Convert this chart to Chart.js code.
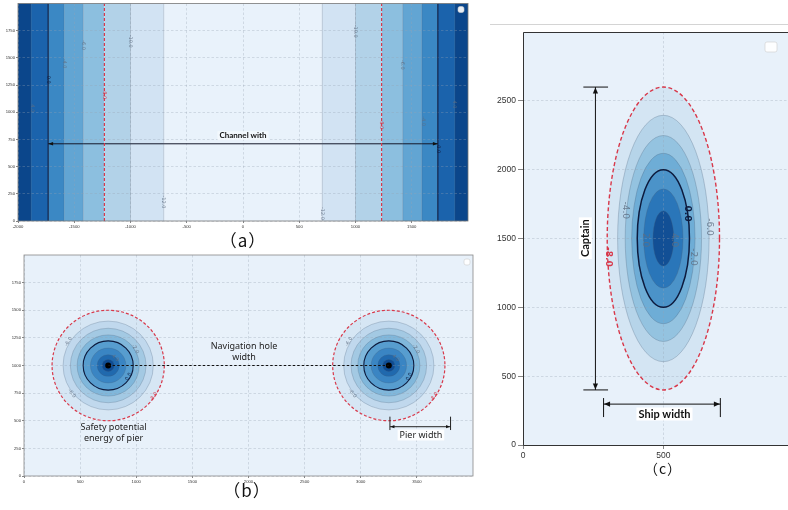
<!DOCTYPE html>
<html>
<head>
<meta charset="utf-8">
<script src="https://cdn.jsdelivr.net/npm/chart.js@4.4.1/dist/chart.umd.min.js"></script>
<style>
  body { margin: 0; background: #fff; width: 788px; height: 510px; position: relative; overflow: hidden; }
  canvas { position: absolute; }
  .cap { position: absolute; font-family: "Noto Sans CJK SC", "Noto Sans CJK JP"; color: #111; transform: translate(-50%, -50%); white-space: nowrap; letter-spacing: 1px; }
  .rule { position: absolute; height: 1px; }
</style>
</head>
<body>
<canvas id="chartA" width="480" height="240" style="left:0;top:0"></canvas>
<canvas id="chartB" width="480" height="250" style="left:0;top:250px"></canvas>
<canvas id="chartC" width="308" height="480" style="left:480px;top:0"></canvas>
<div class="rule" style="left:490px;top:24px;width:298px;background:#d4d4d4"></div>
<div class="cap" style="left:243px;top:239px;font-size:17px">（a）</div>
<div class="cap" style="left:247px;top:489px;font-size:17px">（b）</div>
<div class="cap" style="left:663px;top:468px;font-size:14px">（c）</div>
<script>
// (a) channel: band edges along x, contour lines and their values
const channelEdges = [-2000, -1884, -1732, -1590, -1420, -1232, -1000, -705, 705, 1000, 1232, 1420, 1590, 1732, 1884, 2000];
const channelLines = [705, 1000, 1232, 1420, 1590, 1732, 1884];
const channelLevels = [-12, -10, -8, -6, -4, 0, 4];
const channelSpan = [-1732, 1732];
const channelArrowY = 710;
const ticksAx = [-2000, -1500, -1000, -500, 0, 500, 1000, 1500];
const ticksAy = [0, 250, 500, 750, 1000, 1250, 1500, 1750];

// (b) piers: centres, contour radii and values
const pierCenters = [[750, 1000], [3250, 1000]];
const pierRadii = [500, 402, 337, 277, 223, 158, 98, 54];
const pierLevels = [-8, -6, -4, -2, 0, 2, 4, 6];
const pierWidthSpan = [3260, 3800];
const pierWidthY = 446;
const pierWidthBar = [416, 537];
const ticksBx = [0, 500, 1000, 1500, 2000, 2500, 3000, 3500];
const ticksBy = [0, 250, 500, 750, 1000, 1250, 1500, 1750];

// (c) ship: centre, ellipse half axes and values
const shipCenter = [500, 1500];
const shipRx = [200, 163, 136, 113, 93, 70, 37];
const shipRy = [1100, 895, 748, 619, 500, 360, 200];
const shipLevels = [-8, -6, -4, -2, 0, 2, 4];
const captainX = 258;
const captainSpan = [400, 2600];
const captainBar = [215, 303];
const shipWidthSpan = [287, 703];
const shipWidthY = 297;
const shipWidthBar = [203, 341];
const ticksCx = [0, 500];
const ticksCy = [0, 500, 1000, 1500, 2000, 2500];

// colours
const bandColorsA = ['#0b468b', '#1b63ac', '#3b88c4', '#62a5d3', '#8cbfdf', '#b2d2e8', '#d2e3f3', '#e9f2fb',
                     '#d2e3f3', '#b2d2e8', '#8cbfdf', '#62a5d3', '#3b88c4', '#1b63ac', '#0b468b'];
const ringColorsB = ['#d6e6f4', '#c0d8ed', '#a3c9e3', '#80b7db', '#579dcf', '#3a85c3', '#2069ae', '#0e4c93'];
const ringColorsC = ['#d4e5f3', '#b6d4e9', '#94c3e0', '#6eadd6', '#4b93c9', '#2a76b9', '#124f95'];
const paleBg = '#e8f1fa';
const redLine = '#d8384a';

function lineStyle(lvl) {
  if (lvl === -8) return { borderColor: redLine, borderWidth: 1.2, borderDash: [3, 2] };
  if (lvl === 0) return { borderColor: '#0d1b3e', borderWidth: 1.1, borderDash: [] };
  return { borderColor: 'rgba(70,90,115,0.35)', borderWidth: 0.7, borderDash: [] };
}

function scaleOpts(min, max, ticks, pos, size, font, tickLen, pad) {
  return {
    type: 'linear', position: pos, min: min, max: max,
    afterBuildTicks: s => { s.ticks = ticks.map(v => ({ value: v })); },
    afterFit: s => { if (pos === 'left') s.width = size; else s.height = size; },
    grid: { color: 'rgba(150,162,178,0.55)', lineWidth: 0.6, drawTicks: true, tickLength: tickLen, tickColor: '#666', tickWidth: 0.8 },
    border: { display: false, dash: [2.5, 2] },
    ticks: { color: '#333', font: { family: 'Liberation Sans', size: font }, padding: pad,
             maxRotation: 0, minRotation: 0, autoSkip: false, callback: v => String(v) }
  };
}

function baseOptions(pad, scales) {
  return {
    responsive: false, animation: false, devicePixelRatio: 1, events: [],
    layout: { padding: pad },
    plugins: { legend: { display: false }, tooltip: { enabled: false } },
    scales: scales
  };
}

function px(chart, x, y) {
  return [chart.scales.x.getPixelForValue(x), chart.scales.y.getPixelForValue(y)];
}

function ellipsePath(ctx, chart, cx, cy, rx, ry) {
  const [x0, y0] = px(chart, cx, cy);
  const w = Math.abs(chart.scales.x.getPixelForValue(cx + rx) - x0);
  const h = Math.abs(chart.scales.y.getPixelForValue(cy + ry) - y0);
  ctx.beginPath();
  ctx.ellipse(x0, y0, w, h, 0, 0, Math.PI * 2);
}

function drawText(ctx, txt, x, y, o) {
  ctx.save();
  ctx.translate(x, y);
  if (o.rot) ctx.rotate(o.rot);
  ctx.font = o.font;
  ctx.textAlign = 'center';
  ctx.textBaseline = 'middle';
  if (o.bg) {
    const w = ctx.measureText(txt).width + 4;
    ctx.fillStyle = o.bg;
    ctx.fillRect(-w / 2, -o.h / 2, w, o.h);
  }
  ctx.fillStyle = o.color;
  ctx.fillText(txt, 0, 0);
  ctx.restore();
}

function arrowHead(ctx, x, y, ang, len, half) {
  ctx.save();
  ctx.translate(x, y);
  ctx.rotate(ang);
  ctx.beginPath();
  ctx.moveTo(0, 0); ctx.lineTo(-len, -half); ctx.lineTo(-len, half); ctx.closePath();
  ctx.fillStyle = '#111';
  ctx.fill();
  ctx.restore();
}

function legendBox(ctx, x, y, w, h) {
  ctx.save();
  ctx.beginPath();
  ctx.roundRect(x, y, w, h, 2);
  ctx.fillStyle = 'rgba(255,255,255,0.9)';
  ctx.fill();
  ctx.strokeStyle = '#cfcfcf';
  ctx.lineWidth = 0.6;
  ctx.stroke();
  ctx.restore();
}

function labelColor(lvl) {
  if (lvl === -8) return redLine;
  if (lvl === 0) return '#0d1b3e';
  return 'rgba(95,110,130,0.85)';
}

function seg(x0, y0, x1, y1, style) {
  return Object.assign({ data: [{ x: x0, y: y0 }, { x: x1, y: y1 }], showLine: true, pointRadius: 0, fill: false }, style);
}

// ---------- (a) ----------
const dsA = [];
channelLines.forEach((d, i) => {
  [-d, d].forEach(xv => dsA.push(seg(xv, 0, xv, 2000, lineStyle(channelLevels[i]))));
});
dsA.push(seg(channelSpan[0], channelArrowY, channelSpan[1], channelArrowY, { borderColor: '#15182a', borderWidth: 1 }));

const spotsA = [[-1870, 1036, 6], [-1732, 1300, 5], [-1590, 1448, 4], [-1420, 1618, 3], [-1232, 1164, 2],
                [-1000, 1654, 1], [-705, 175, 0], [705, 70, 0], [1000, 1745, 1], [1232, 890, 2],
                [1420, 1436, 3], [1600, 918, 4], [1740, 660, 5], [1875, 1072, 6]];

const panelA = {
  id: 'panelA',
  beforeDraw(chart) {
    const { ctx, chartArea: a, scales: { x } } = chart;
    ctx.save();
    for (let i = 0; i < channelEdges.length - 1; i++) {
      const x0 = x.getPixelForValue(channelEdges[i]);
      const x1 = x.getPixelForValue(channelEdges[i + 1]);
      ctx.fillStyle = bandColorsA[i];
      ctx.fillRect(x0, a.top, x1 - x0, a.height);
    }
    ctx.restore();
  },
  afterDatasetsDraw(chart) {
    const ctx = chart.ctx;
    spotsA.forEach(([lx, ly, k]) => {
      const [p, q] = px(chart, lx, ly);
      drawText(ctx, channelLevels[k].toFixed(1), p, q, { font: '5px "DejaVu Sans"', color: labelColor(channelLevels[k]), rot: Math.PI / 2 });
    });
  },
  afterDraw(chart) {
    const { ctx, chartArea: a } = chart;
    ctx.save();
    ctx.strokeStyle = '#777'; ctx.lineWidth = 0.8;
    ctx.strokeRect(a.left, a.top, a.width, a.height);
    ctx.restore();
    const [l, y0] = px(chart, channelSpan[0], channelArrowY);
    const [r] = px(chart, channelSpan[1], channelArrowY);
    arrowHead(ctx, l, y0, Math.PI, 5, 1.8);
    arrowHead(ctx, r, y0, 0, 5, 1.8);
    const [tx, ty] = px(chart, 0, 785);
    drawText(ctx, 'Channel with', tx, ty, { font: 'bold 8px Lato', color: '#111', bg: 'rgba(245,249,253,0.85)', h: 9 });
    legendBox(ctx, a.right - 10, a.top + 3, 6, 6);
  }
};

new Chart(document.getElementById('chartA'), {
  type: 'scatter',
  data: { datasets: dsA },
  options: baseOptions({ top: 1, right: 12, left: 0, bottom: 0 }, {
    x: scaleOpts(-2000, 2000, ticksAx, 'bottom', 19, 4.2, 2, 1),
    y: scaleOpts(0, 2000, ticksAy, 'left', 18, 4.2, 2, 1)
  }),
  plugins: [panelA]
});

// ---------- (b) ----------
const dsB = [
  seg(pierCenters[0][0], pierCenters[0][1], pierCenters[1][0], pierCenters[1][1], { borderColor: '#111', borderWidth: 1.2, borderDash: [2.5, 2] }),
  { data: pierCenters.map(([x, y]) => ({ x: x, y: y })), pointRadius: 3, pointBackgroundColor: '#000', pointBorderWidth: 0, showLine: false },
  seg(pierWidthSpan[0], pierWidthY, pierWidthSpan[1], pierWidthY, { borderColor: '#222', borderWidth: 1 }),
  seg(pierWidthSpan[0], pierWidthBar[0], pierWidthSpan[0], pierWidthBar[1], { borderColor: '#222', borderWidth: 1 }),
  seg(pierWidthSpan[1], pierWidthBar[0], pierWidthSpan[1], pierWidthBar[1], { borderColor: '#222', borderWidth: 1 })
];

const spotsB = [[396, 1216, 1], [426, 748, 1], [932, 899, 4], [813, 1068, 6], [991, 1149, 3], [1155, 718, 0]];

const panelB = {
  id: 'panelB',
  beforeDraw(chart) {
    const { ctx, chartArea: a } = chart;
    ctx.save();
    ctx.fillStyle = paleBg;
    ctx.fillRect(a.left, a.top, a.width, a.height);
    pierCenters.forEach(([cx, cy]) => {
      pierRadii.forEach((r, i) => {
        ellipsePath(ctx, chart, cx, cy, r, r);
        ctx.fillStyle = ringColorsB[i];
        ctx.fill();
      });
    });
    ctx.restore();
  },
  beforeDatasetsDraw(chart) {
    const ctx = chart.ctx;
    ctx.save();
    pierCenters.forEach(([cx, cy]) => {
      pierRadii.forEach((r, i) => {
        const st = lineStyle(pierLevels[i]);
        ellipsePath(ctx, chart, cx, cy, r, r);
        ctx.strokeStyle = st.borderColor;
        ctx.lineWidth = st.borderWidth;
        ctx.setLineDash(st.borderDash);
        ctx.stroke();
      });
    });
    ctx.restore();
  },
  afterDatasetsDraw(chart) {
    const ctx = chart.ctx;
    pierCenters.forEach(([cx, cy]) => {
      spotsB.forEach(([lx, ly, k]) => {
        const off = cx - pierCenters[0][0];
        const [pc, qc] = px(chart, cx, cy);
        const [p, q] = px(chart, lx + off, ly);
        let rot = Math.atan2(q - qc, p - pc) + Math.PI / 2;
        while (rot > Math.PI / 2) rot -= Math.PI;
        while (rot < -Math.PI / 2) rot += Math.PI;
        drawText(ctx, pierLevels[k].toFixed(1), p, q, { font: '5px "DejaVu Sans"', color: labelColor(pierLevels[k]), rot: rot });
      });
    });
  },
  afterDraw(chart) {
    const { ctx, chartArea: a } = chart;
    ctx.save();
    ctx.strokeStyle = '#888'; ctx.lineWidth = 0.8;
    ctx.strokeRect(a.left, a.top, a.width, a.height);
    ctx.restore();
    const [l, y0] = px(chart, pierWidthSpan[0], pierWidthY);
    const [r] = px(chart, pierWidthSpan[1], pierWidthY);
    arrowHead(ctx, l + 0.5, y0, Math.PI, 4, 1.6);
    arrowHead(ctx, r - 0.5, y0, 0, 4, 1.6);
    const f = '9px "Noto Sans"';
    let [tx, ty] = px(chart, 1960, 1170);
    drawText(ctx, 'Navigation hole', tx, ty, { font: f, color: '#222' });
    [tx, ty] = px(chart, 1960, 1074);
    drawText(ctx, 'width', tx, ty, { font: f, color: '#222' });
    [tx, ty] = px(chart, 798, 437);
    drawText(ctx, 'Safety potential', tx, ty, { font: f, color: '#222' });
    [tx, ty] = px(chart, 798, 341);
    drawText(ctx, 'energy of pier', tx, ty, { font: f, color: '#222' });
    [tx, ty] = px(chart, 3536, 371);
    drawText(ctx, 'Pier width', tx, ty, { font: f, color: '#222', bg: 'rgba(255,255,255,0.9)', h: 11 });
    legendBox(ctx, a.right - 9, a.top + 4, 6, 6);
  }
};

new Chart(document.getElementById('chartB'), {
  type: 'scatter',
  data: { datasets: dsB },
  options: baseOptions({ top: 5, right: 7, left: 0, bottom: 0 }, {
    x: scaleOpts(0, 4000, ticksBx, 'bottom', 24, 4.2, 2, 1),
    y: scaleOpts(0, 2000, ticksBy, 'left', 24, 4.2, 2, 1)
  }),
  plugins: [panelB]
});

// ---------- (c) ----------
const blk = { borderColor: '#111', borderWidth: 1 };
const dsC = [
  seg(captainX, captainSpan[0], captainX, captainSpan[1], blk),
  seg(captainBar[0], captainSpan[0], captainBar[1], captainSpan[0], blk),
  seg(captainBar[0], captainSpan[1], captainBar[1], captainSpan[1], blk),
  seg(shipWidthSpan[0], shipWidthY, shipWidthSpan[1], shipWidthY, blk),
  seg(shipWidthSpan[0], shipWidthBar[0], shipWidthSpan[0], shipWidthBar[1], blk),
  seg(shipWidthSpan[1], shipWidthBar[0], shipWidthSpan[1], shipWidthBar[1], blk)
];

const spotsC = [[305, 1366, 0], [665, 1584, 1], [365, 1705, 2], [607, 1366, 3], [587, 1681, 4], [436, 1488, 5], [539, 1488, 6]];

const panelC = {
  id: 'panelC',
  beforeDraw(chart) {
    const { ctx, chartArea: a } = chart;
    ctx.save();
    ctx.fillStyle = paleBg;
    ctx.fillRect(a.left, a.top, a.width, a.height);
    shipRy.forEach((ry, i) => {
      ellipsePath(ctx, chart, shipCenter[0], shipCenter[1], shipRx[i], ry);
      ctx.fillStyle = ringColorsC[i];
      ctx.fill();
    });
    ctx.restore();
  },
  beforeDatasetsDraw(chart) {
    const ctx = chart.ctx;
    ctx.save();
    shipRy.forEach((ry, i) => {
      const st = lineStyle(shipLevels[i]);
      ellipsePath(ctx, chart, shipCenter[0], shipCenter[1], shipRx[i], ry);
      ctx.strokeStyle = st.borderColor;
      ctx.lineWidth = shipLevels[i] === 0 ? 1.5 : shipLevels[i] === -8 ? 1.4 : 0.8;
      ctx.setLineDash(shipLevels[i] === -8 ? [4, 2.5] : []);
      ctx.stroke();
    });
    ctx.restore();
  },
  afterDatasetsDraw(chart) {
    const ctx = chart.ctx;
    spotsC.forEach(([lx, ly, k]) => {
      const [p, q] = px(chart, lx, ly);
      const lvl = shipLevels[k];
      drawText(ctx, lvl.toFixed(1), p, q, {
        font: (lvl === 0 || lvl === -8 ? 'bold ' : '') + '9px "DejaVu Sans"',
        color: labelColor(lvl), rot: Math.PI / 2
      });
    });
  },
  afterDraw(chart) {
    const { ctx, chartArea: a } = chart;
    ctx.save();
    ctx.strokeStyle = '#333'; ctx.lineWidth = 1;
    ctx.beginPath();
    ctx.moveTo(a.right, a.top + 0.5); ctx.lineTo(a.left + 0.5, a.top + 0.5);
    ctx.lineTo(a.left + 0.5, a.bottom + 0.5); ctx.lineTo(a.right, a.bottom + 0.5);
    ctx.stroke();
    ctx.restore();
    const [cx, top] = px(chart, captainX, captainSpan[1]);
    const [, bot] = px(chart, captainX, captainSpan[0]);
    arrowHead(ctx, cx, top + 0.5, -Math.PI / 2, 6, 2.6);
    arrowHead(ctx, cx, bot - 0.5, Math.PI / 2, 6, 2.6);
    const [l, sy] = px(chart, shipWidthSpan[0], shipWidthY);
    const [r] = px(chart, shipWidthSpan[1], shipWidthY);
    arrowHead(ctx, l + 0.5, sy, Math.PI, 6, 2.6);
    arrowHead(ctx, r - 0.5, sy, 0, 6, 2.6);
    let [tx, ty] = px(chart, 222, 1502);
    drawText(ctx, 'Captain', tx, ty, { font: 'bold 11px Lato', color: '#111', bg: '#ffffff', h: 13, rot: -Math.PI / 2 });
    [tx, ty] = px(chart, 504, 225);
    drawText(ctx, 'Ship width', tx, ty, { font: 'bold 11px Lato', color: '#111', bg: '#ffffff', h: 13 });
    legendBox(ctx, a.right - 23, a.top + 10, 12, 10);
  }
};

new Chart(document.getElementById('chartC'), {
  type: 'scatter',
  data: { datasets: dsC },
  options: baseOptions({ top: 32, right: 0, left: 0, bottom: 0 }, {
    x: scaleOpts(0, 944, ticksCx, 'bottom', 35, 8.5, 4, 2),
    y: scaleOpts(0, 3000, ticksCy, 'left', 43, 8.5, 5, 2)
  }),
  plugins: [panelC]
});
</script>
</body>
</html>
